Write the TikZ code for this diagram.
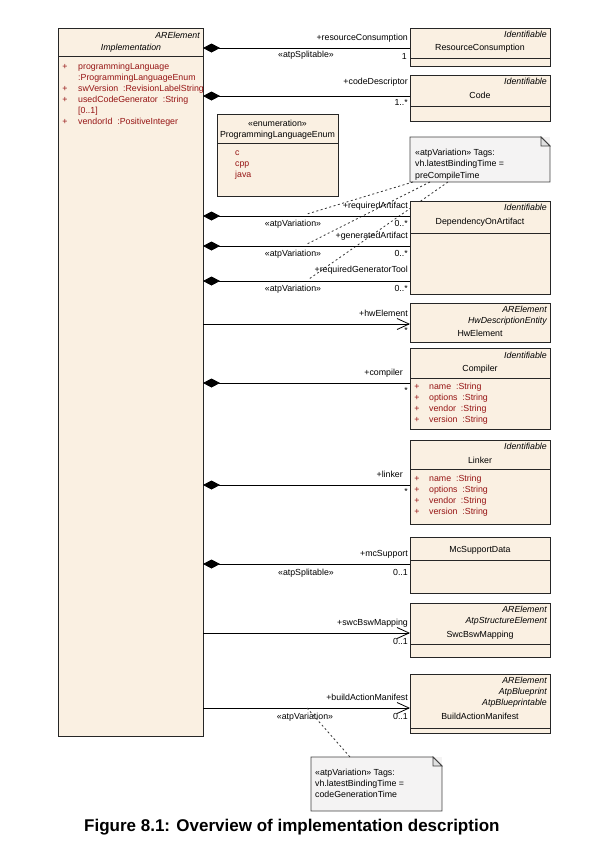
\documentclass[tikz,border=0pt]{standalone}
\usepackage{fontspec}
\setmainfont{Liberation Sans}
\usetikzlibrary{arrows.meta}
\definecolor{clsfill}{RGB}{250,240,226}
\definecolor{notefill}{RGB}{244,243,243}
\definecolor{attrcol}{RGB}{150,20,20}
\newcommand\clsbox[5]{\node[cls, minimum width=#4pt, minimum height=#5pt, anchor=north west] (#1) at (#2,#3) {};}
\newcommand\hdiv[2]{\draw[divline] (#1.west |- 0,#2) -- (#1.east |- 0,#2);}
\begin{document}
\begin{tikzpicture}[x=1pt,y=-1pt,
  cls/.style={draw=black!85, fill=clsfill, line width=0.8pt, inner sep=0pt, outer sep=0pt},
  divline/.style={draw=black!85, line width=0.8pt},
  lbl/.style={font=\fontsize{8.8}{10}\selectfont, inner sep=0pt},
  stereo/.style={font=\fontsize{8.8}{10}\selectfont\itshape, inner sep=0pt},
  attr/.style={lbl, text=attrcol},
  comp/.style={{Diamond[length=17pt,width=9pt]}-, line width=0.8pt},
  assoc/.style={-{Straight Barb[length=12pt,width=11pt]}, line width=0.8pt},
  notebox/.style={fill=notefill, inner sep=0pt, outer sep=0pt},
  notedraw/.style={draw=black!75, line width=0.8pt},
  notelink/.style={dash pattern=on 2pt off 2.5pt, line width=0.8pt, draw=black!80}]
\useasboundingbox (0,0) rectangle (614,849);

% ---------- Implementation ----------
\clsbox{impl}{58}{28}{145}{708}
\hdiv{impl}{56}
\node[stereo, anchor=mid east] (implst) at (200,36) {ARElement};
\node[stereo, anchor=mid] (implnm) at (131,48) {Implementation};
\node[attr, anchor=mid] (ib1) at (65,67) {+};
\node[attr, anchor=mid west] (ia1) at (78,67) {programmingLanguage};
\node[attr, anchor=mid west] (ia1b) at (78,78) {:ProgrammingLanguageEnum};
\node[attr, anchor=mid] (ib2) at (65,89) {+};
\node[attr, anchor=mid west] (ia2) at (78,89) {swVersion\ \ :RevisionLabelString};
\node[attr, anchor=mid] (ib3) at (65,100) {+};
\node[attr, anchor=mid west] (ia3) at (78,100) {usedCodeGenerator\ \ :String};
\node[attr, anchor=mid west] (ia3b) at (78,111) {[0..1]};
\node[attr, anchor=mid] (ib4) at (65,122) {+};
\node[attr, anchor=mid west] (ia4) at (78,122) {vendorId\ \ :PositiveInteger};

% ---------- note links (behind) ----------
\coordinate (m1) at (307,214);
\coordinate (m2) at (307,244);
\coordinate (m3) at (309,279);
\coordinate (m4) at (307,708);

% ---------- ResourceConsumption ----------
\clsbox{rc}{410}{28}{140}{38}
\hdiv{rc}{58}
\node[stereo, anchor=mid east] (rcst) at (547,35) {Identifiable};
\node[lbl, anchor=mid] (rcnm) at (480,48) {ResourceConsumption};
\draw[comp] (impl.east |- 0,48) -- (rc.west |- 0,48);
\node[lbl, anchor=mid east] (rcr) at (408,38) {+resourceConsumption};
\node[lbl, anchor=mid] (rcs) at (306,55) {«atpSplitable»};
\node[lbl, anchor=mid east] (rcm) at (407,57) {1};

% ---------- Code ----------
\clsbox{code}{410}{75}{140}{46}
\hdiv{code}{106}
\node[stereo, anchor=mid east] (codest) at (547,82) {Identifiable};
\node[lbl, anchor=mid] (codenm) at (480,96) {Code};
\draw[comp] (impl.east |- 0,96) -- (code.west |- 0,96);
\node[lbl, anchor=mid east] (coder) at (408,82) {+codeDescriptor};
\node[lbl, anchor=mid east] (codem) at (408,103) {1..*};

% ---------- Enumeration ----------
\clsbox{enum}{217}{114}{121}{82}
\hdiv{enum}{143}
\node[lbl, anchor=mid] (enst) at (277.5,124) {«enumeration»};
\node[lbl, anchor=mid] (ennm) at (277.5,135) {ProgrammingLanguageEnum};
\node[attr, anchor=mid west] (enl1) at (235,153) {c};
\node[attr, anchor=mid west] (enl2) at (235,164) {cpp};
\node[attr, anchor=mid west] (enl3) at (235,175) {java};

% ---------- Note 1 ----------
\node[notebox, minimum width=140pt, minimum height=45pt, anchor=north west] (n1) at (410,137) {};
\draw[notedraw] (n1.north west) -- ([xshift=-9pt]n1.north east) -- ([yshift=-9pt]n1.north east) -- (n1.south east) -- (n1.south west) -- cycle;
\draw[notedraw, fill=black!12] ([xshift=-9pt]n1.north east) -- ([xshift=-9pt,yshift=-9pt]n1.north east) -- ([yshift=-9pt]n1.north east) -- cycle;
\node[lbl, anchor=mid west] (n1t1) at (415,153) {«atpVariation» Tags:};
\node[lbl, anchor=mid west] (n1t2) at (415,164) {vh.latestBindingTime =};
\node[lbl, anchor=mid west] (n1t3) at (415,176) {preCompileTime};
\draw[notelink] (n1.south -| 413,0) -- (m1);
\draw[notelink] (n1.south -| 430,0) -- (m2);
\draw[notelink] (n1.south -| 448,0) -- (m3);

% ---------- DependencyOnArtifact ----------
\clsbox{dep}{410}{201}{140}{93}
\hdiv{dep}{233}
\node[stereo, anchor=mid east] (depst) at (547,208) {Identifiable};
\node[lbl, anchor=mid] (depnm) at (480,222) {DependencyOnArtifact};
\draw[comp] (impl.east |- 0,216) -- (dep.west |- 0,216);
\draw[comp] (impl.east |- 0,246) -- (dep.west |- 0,246);
\draw[comp] (impl.east |- 0,281) -- (dep.west |- 0,281);
\node[lbl, anchor=mid east] (d1r) at (408,206) {+requiredArtifact};
\node[lbl, anchor=mid] (d1s) at (293,224) {«atpVariation»};
\node[lbl, anchor=mid east] (d1m) at (408,224) {0..*};
\node[lbl, anchor=mid east] (d2r) at (408,236) {+generatedArtifact};
\node[lbl, anchor=mid] (d2s) at (293,254) {«atpVariation»};
\node[lbl, anchor=mid east] (d2m) at (408,254) {0..*};
\node[lbl, anchor=mid east] (d3r) at (408,270) {+requiredGeneratorTool};
\node[lbl, anchor=mid] (d3s) at (293,289) {«atpVariation»};
\node[lbl, anchor=mid east] (d3m) at (408,289) {0..*};

% ---------- HwElement ----------
\clsbox{hw}{410}{303}{140}{39}
\node[stereo, anchor=mid east] (hwst1) at (547,310) {ARElement};
\node[stereo, anchor=mid east] (hwst2) at (547,321) {HwDescriptionEntity};
\node[lbl, anchor=mid] (hwnm) at (480,334) {HwElement};
\draw[assoc] (impl.east |- 0,324) -- (hw.west |- 0,324);
\node[lbl, anchor=mid east] (hwr) at (408,314) {+hwElement};
\node[lbl, anchor=mid east] (hwm) at (408,331) {*};

% ---------- Compiler ----------
\clsbox{cmp}{410}{348}{140}{81}
\hdiv{cmp}{378}
\node[stereo, anchor=mid east] (cmpst) at (547,356) {Identifiable};
\node[lbl, anchor=mid] (cmpnm) at (480,369) {Compiler};
\node[attr, anchor=mid] (cb1) at (417,387) {+};
\node[attr, anchor=mid west] (ca1) at (429,387) {name\ \ :String};
\node[attr, anchor=mid] (cb2) at (417,398) {+};
\node[attr, anchor=mid west] (ca2) at (429,398) {options\ \ :String};
\node[attr, anchor=mid] (cb3) at (417,409) {+};
\node[attr, anchor=mid west] (ca3) at (429,409) {vendor\ \ :String};
\node[attr, anchor=mid] (cb4) at (417,420) {+};
\node[attr, anchor=mid west] (ca4) at (429,420) {version\ \ :String};
\draw[comp] (impl.east |- 0,383) -- (cmp.west |- 0,383);
\node[lbl, anchor=mid east] (cmpr) at (403,373) {+compiler};
\node[lbl, anchor=mid east] (cmpm) at (408,391) {*};

% ---------- Linker ----------
\clsbox{lnk}{410}{440}{140}{84}
\hdiv{lnk}{469}
\node[stereo, anchor=mid east] (lnkst) at (547,447) {Identifiable};
\node[lbl, anchor=mid] (lnknm) at (480,461) {Linker};
\node[attr, anchor=mid] (lb1) at (417,479) {+};
\node[attr, anchor=mid west] (la1) at (429,479) {name\ \ :String};
\node[attr, anchor=mid] (lb2) at (417,490) {+};
\node[attr, anchor=mid west] (la2) at (429,490) {options\ \ :String};
\node[attr, anchor=mid] (lb3) at (417,501) {+};
\node[attr, anchor=mid west] (la3) at (429,501) {vendor\ \ :String};
\node[attr, anchor=mid] (lb4) at (417,512) {+};
\node[attr, anchor=mid west] (la4) at (429,512) {version\ \ :String};
\draw[comp] (impl.east |- 0,485) -- (lnk.west |- 0,485);
\node[lbl, anchor=mid east] (lnkr) at (403,475) {+linker};
\node[lbl, anchor=mid east] (lnkm) at (408,492) {*};

% ---------- McSupportData ----------
\clsbox{mc}{410}{537}{140}{56}
\hdiv{mc}{560}
\node[lbl, anchor=mid] (mcnm) at (480,550) {McSupportData};
\draw[comp] (impl.east |- 0,564) -- (mc.west |- 0,564);
\node[lbl, anchor=mid east] (mcr) at (408,554) {+mcSupport};
\node[lbl, anchor=mid] (mcs) at (306,573) {«atpSplitable»};
\node[lbl, anchor=mid east] (mcm) at (408,573) {0..1};

% ---------- SwcBswMapping ----------
\clsbox{swc}{410}{603}{140}{54}
\hdiv{swc}{644}
\node[stereo, anchor=mid east] (swcst1) at (547,610) {ARElement};
\node[stereo, anchor=mid east] (swcst2) at (547,621) {AtpStructureElement};
\node[lbl, anchor=mid] (swcnm) at (480,635) {SwcBswMapping};
\draw[assoc] (impl.east |- 0,633) -- (swc.west |- 0,633);
\node[lbl, anchor=mid east] (swcr) at (408,623) {+swcBswMapping};
\node[lbl, anchor=mid east] (swcm) at (408,642) {0..1};

% ---------- BuildActionManifest ----------
\clsbox{bam}{410}{674}{140}{59}
\hdiv{bam}{728}
\node[stereo, anchor=mid east] (bamst1) at (547,681) {ARElement};
\node[stereo, anchor=mid east] (bamst2) at (547,692) {AtpBlueprint};
\node[stereo, anchor=mid east] (bamst3) at (547,703) {AtpBlueprintable};
\node[lbl, anchor=mid] (bamnm) at (480,717) {BuildActionManifest};
\draw[assoc] (impl.east |- 0,708) -- (bam.west |- 0,708);
\node[lbl, anchor=mid east] (bamr) at (408,698) {+buildActionManifest};
\node[lbl, anchor=mid] (bams) at (305,717) {«atpVariation»};
\node[lbl, anchor=mid east] (bamm) at (408,717) {0..1};

% ---------- Note 2 ----------
\node[notebox, minimum width=131pt, minimum height=54pt, anchor=north west] (n2) at (311,757) {};
\draw[notedraw] (n2.north west) -- ([xshift=-9pt]n2.north east) -- ([yshift=-9pt]n2.north east) -- (n2.south east) -- (n2.south west) -- cycle;
\draw[notedraw, fill=black!12] ([xshift=-9pt]n2.north east) -- ([xshift=-9pt,yshift=-9pt]n2.north east) -- ([yshift=-9pt]n2.north east) -- cycle;
\node[lbl, anchor=mid west] (n2t1) at (315,773) {«atpVariation» Tags:};
\node[lbl, anchor=mid west] (n2t2) at (315,784) {vh.latestBindingTime =};
\node[lbl, anchor=mid west] (n2t3) at (315,795) {codeGenerationTime};
\draw[notelink] (m4) -- (n2.north -| 350,0);

% ---------- Caption ----------
\node[anchor=mid west, inner sep=0pt, font=\bfseries\fontsize{17}{20}\selectfont] (cap) at (84,829) {Figure 8.1: Overview of implementation description};
\end{tikzpicture}
\end{document}
